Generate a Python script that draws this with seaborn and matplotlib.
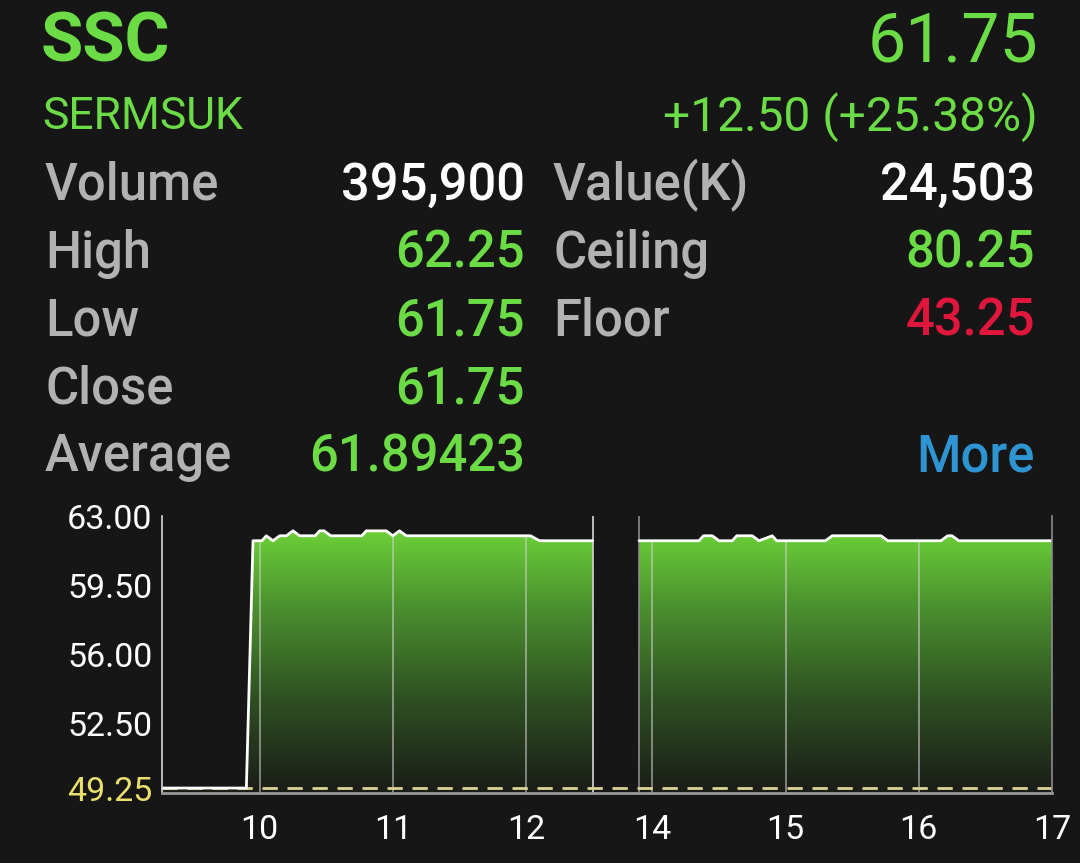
import numpy as np
import matplotlib
matplotlib.use('Agg')
import matplotlib.pyplot as plt
import seaborn as sns
from matplotlib.colors import LinearSegmentedColormap

# quote header
symbol = 'SSC'
company = 'SERMSUK'
last_price = '61.75'
change_text = '+12.50 (+25.38%)'
left_labels = ['Volume', 'High', 'Low', 'Close', 'Average']
left_values = ['395,900', '62.25', '61.75', '61.75', '61.89423']
right_labels = ['Value(K)', 'Ceiling', 'Floor']
right_values = ['24,503', '80.25', '43.25']
prev_close = 49.25

# intraday price (HH:MM)
morning_times = ['09:16', '09:54', '09:57', '10:01', '10:03', '10:06', '10:09', '10:12',
                 '10:15', '10:18', '10:25', '10:27', '10:29', '10:32', '10:46', '10:48',
                 '10:57', '11:00', '11:03', '11:06', '12:02', '12:06', '12:30']
morning_prices = [49.25, 49.25, 61.75, 61.75, 62.00, 61.75, 62.00, 62.00,
                  62.25, 62.00, 62.00, 62.25, 62.25, 62.00, 62.00, 62.25,
                  62.25, 62.00, 62.25, 62.00, 62.00, 61.75, 61.75]
afternoon_times = ['13:54', '14:21', '14:23', '14:27', '14:30', '14:36', '14:38', '14:45',
                   '14:48', '14:54', '14:56', '15:18', '15:21', '15:43', '15:46', '16:10',
                   '16:13', '16:15', '16:18', '17:00']
afternoon_prices = [61.75, 61.75, 62.00, 62.00, 61.75, 61.75, 62.00, 62.00,
                    61.75, 62.00, 61.75, 61.75, 62.00, 62.00, 61.75, 61.75,
                    62.00, 62.00, 61.75, 61.75]

y_ticks = [49.25, 52.50, 56.00, 59.50, 63.00]
x_tick_hours = [10, 11, 12, 14, 15, 16, 17]

BG = '#161616'
GREEN = '#6bdc45'
GREY = '#b2b2b2'
RED = '#e0163c'
BLUE = '#2f95d2'
YELLOW = '#ebdf6e'

LUNCH_SHIFT = 1.052  # lunch break squeezed to a narrow gap
Y_MIN, Y_MAX = 49.0, 63.0


def to_hours(times):
    return np.array([int(t[:2]) + int(t[3:]) / 60 for t in times])


def to_pos(h):
    h = np.asarray(h, dtype=float)
    return np.where(h > 13, h - LUNCH_SHIFT, h)


sns.set_theme(style='dark')
plt.rcParams['font.family'] = ['Roboto', 'DejaVu Sans']

fig = plt.figure(figsize=(10.8, 8.63), dpi=100, facecolor=BG)


def px_text(x, y, s, **kw):
    fig.text(x / 1080, 1 - y / 863, s, va='baseline', **kw)


# header
px_text(41, 62, symbol, color=GREEN, fontsize=49.5, fontweight='bold')
px_text(1038, 62, last_price, color=GREEN, fontsize=49, ha='right')
px_text(42, 129, company, color=GREEN, fontsize=32)
px_text(1038, 131, change_text, color=GREEN, fontsize=34.5, ha='right')

row_y = [200, 268, 336, 403, 471]
left_colors = ['white', GREEN, GREEN, GREEN, GREEN]
right_colors = ['white', GREEN, RED]
fs = 36.5
for i, (lab, val) in enumerate(zip(left_labels, left_values)):
    px_text(45, row_y[i], lab, color=GREY, fontsize=fs, fontweight='medium')
    px_text(525, row_y[i], val, color=left_colors[i], fontsize=fs, fontweight='medium', ha='right')
for i, (lab, val) in enumerate(zip(right_labels, right_values)):
    px_text(553, row_y[i], lab, color=GREY, fontsize=fs, fontweight='medium')
    px_text(1035, row_y[i], val, color=right_colors[i], fontsize=fs, fontweight='medium', ha='right')
px_text(1035, row_y[4], 'More', color=BLUE, fontsize=fs, fontweight='medium', ha='right')

# chart
ax = fig.add_axes([162 / 1080, 1 - 793 / 863, 890 / 1080, 277 / 863])
ax.set_facecolor(BG)

sessions = [
    (to_pos(to_hours(morning_times)), np.array(morning_prices), [10, 11, 12]),
    (to_pos(to_hours(afternoon_times)), np.array(afternoon_prices), [14, 15, 16]),
]

cmap = LinearSegmentedColormap.from_list('fade', ['#1a1c18', '#2e4f22', '#4a8f2e', '#72dc3a'])
grad = np.linspace(1, 0, 256).reshape(-1, 1)
for x, y, hrs in sessions:
    poly = ax.fill_between(x, y, Y_MIN, facecolor='none', edgecolor='none')
    clip = poly.get_paths()[0]
    im = ax.imshow(grad, cmap=cmap, aspect='auto', origin='upper',
                   extent=[x[0], x[-1], Y_MIN, Y_MAX], zorder=1)
    im.set_clip_path(clip, transform=ax.transData)
    for h in hrs:
        gl = ax.axvline(to_pos(h), color='#d0d0d0', alpha=0.7, lw=1.1, zorder=2)
        gl.set_clip_path(clip, transform=ax.transData)
    sns.lineplot(x=x, y=y, ax=ax, color='white', lw=2.0, estimator=None, sort=False, zorder=5)

# session borders
ax.axvline(12.5, color='#d8d8d8', lw=1.2, zorder=3)
ax.axvline(sessions[1][0][0], color='#8c8c8c', lw=1.2, zorder=3)

ax.axhline(prev_close, color='#dcd394', lw=2.0, ls=(0, (5.5, 3.5)), zorder=4)

x_lo = sessions[0][0][0]
x_hi = sessions[1][0][-1]
ax.set_xlim(x_lo, x_hi)
ax.set_ylim(Y_MIN, Y_MAX)

ax.set_yticks(y_ticks)
ax.set_yticklabels([f'{v:.2f}' for v in y_ticks])
ax.set_xticks(to_pos(x_tick_hours))
ax.set_xticklabels([str(h) for h in x_tick_hours])
ax.tick_params(axis='both', length=0, labelsize=24.5, labelcolor='white')
ax.tick_params(axis='y', pad=7)
ax.tick_params(axis='x', pad=15)
ax.get_yticklabels()[0].set_color(YELLOW)
ax.grid(False)

ax.spines['top'].set_visible(False)
ax.spines['left'].set_color('#d8d8d8')
ax.spines['left'].set_linewidth(1.2)
ax.spines['right'].set_color('#8c8c8c')
ax.spines['right'].set_linewidth(1.2)
ax.spines['bottom'].set_color('#999999')
ax.spines['bottom'].set_linewidth(2.0)
for s in ax.spines.values():
    s.set_zorder(6)

fig.savefig('out.png', dpi=100, facecolor=BG)
